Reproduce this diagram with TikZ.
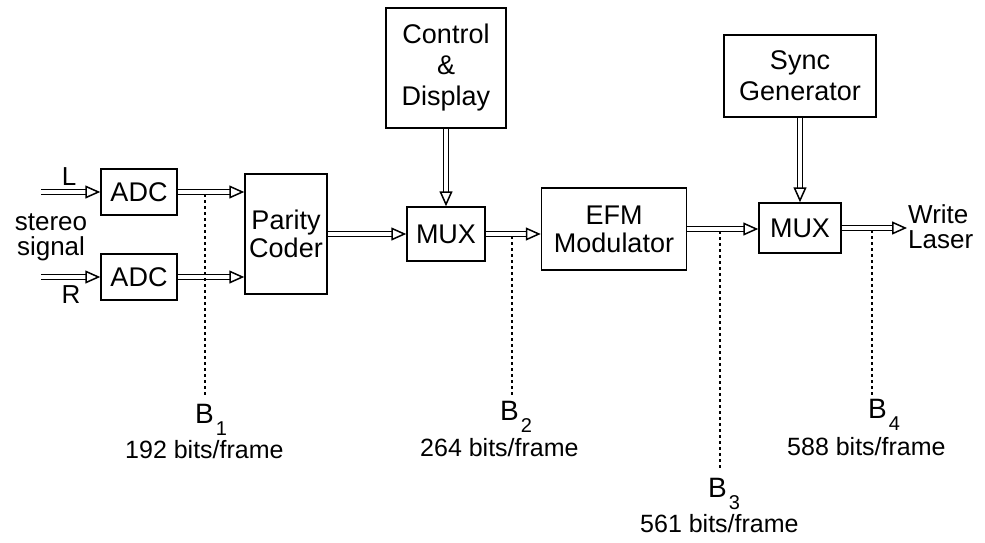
\documentclass[tikz,border=0pt]{standalone}
\usepackage{fontspec}
\setmainfont{Liberation Sans}
\usetikzlibrary{arrows.meta,calc}
\begin{document}
\begin{tikzpicture}[x=1pt,y=-1pt,
  blk/.style={draw, line width=1.5pt, inner sep=0pt, align=center, font=\fontsize{27}{28}\selectfont},
  lab/.style={inner sep=1pt, align=center, font=\fontsize{26}{25}\selectfont},
  blab/.style={inner sep=0pt, anchor=base west, font=\fontsize{28}{28}\selectfont},
  bits/.style={inner sep=0pt, anchor=base west, font=\fontsize{25}{25}\selectfont},
  dbl/.style={double, double distance=3.5pt, line width=1.5pt, -{Triangle[fill=white, length=15pt, width=13pt]}},
  dotl/.style={line width=1.4pt, dash pattern=on 3pt off 3pt}]
\useasboundingbox (0,0) rectangle (985,542);
% blocks
\node[blk, minimum width=76pt, minimum height=46pt] (adcL) at (139,192) {ADC};
\node[blk, minimum width=76pt, minimum height=46pt] (adcR) at (139,277) {ADC};
\node[blk, minimum width=82pt, minimum height=120pt] (parity) at (286,234) {Parity\\Coder};
\node[blk, minimum width=78pt, minimum height=54pt] (mux1) at (446,234) {MUX};
\node[blk, minimum width=120pt, minimum height=120pt, font=\fontsize{27}{31}\selectfont] (ctrl) at (446,68) {Control\\\&\\Display};
\node[blk, minimum width=145pt, minimum height=82pt] (efm) at (614,229) {EFM\\Modulator};
\node[blk, minimum width=82pt, minimum height=50pt] (mux2) at (800,228) {MUX};
\node[blk, minimum width=152pt, minimum height=82pt, font=\fontsize{27}{31}\selectfont] (sync) at (800,76) {Sync\\Generator};
% labels
\node[lab, anchor=west, align=left] (wl) at (907,227) {Write\\Laser};
\node[lab] (lL) at (69,177) {L};
\node[lab] (lR) at (71,295) {R};
\node[lab] (st) at (51,237) {stereo\\signal};
% inputs
\coordinate (inL) at (41,192);
\coordinate (inR) at (41,277);
% connectors
\draw[dbl] (inL) -- (adcL.west);
\draw[dbl] (inR) -- (adcR.west);
\draw[dbl] (adcL.east) -- (adcL.east -| parity.west);
\draw[dbl] (adcR.east) -- (adcR.east -| parity.west);
\draw[dbl] (parity.east) -- (mux1.west);
\draw[dbl] (ctrl.south) -- (mux1.north);
\draw[dbl] (mux1.east) -- (mux1.east -| efm.west);
\draw[dbl] (efm.east) -- (efm.east -| mux2.west);
\draw[dbl] (sync.south) -- (mux2.north);
\draw[dbl] (mux2.east) -- (mux2.east -| wl.west);
% measurement points
\coordinate (t1) at (205,194); \coordinate (e1) at (205,395);
\coordinate (t2) at (512,236); \coordinate (e2) at (512,395);
\coordinate (t3) at (720,231); \coordinate (e3) at (720,470);
\coordinate (t4) at (872,230); \coordinate (e4) at (872,395);
\draw[dotl] (t1) -- (e1);
\draw[dotl] (t2) -- (e2);
\draw[dotl] (t3) -- (e3);
\draw[dotl] (t4) -- (e4);
\newcommand{\bsub}[1]{\kern2pt\raisebox{-12pt}{\fontsize{20}{20}\selectfont #1}}
\node[blab] (b1) at (195,423) {B\bsub{1}};
\node[blab] (b2) at (500,420) {B\bsub{2}};
\node[blab] (b3) at (708,497) {B\bsub{3}};
\node[blab] (b4) at (868,418) {B\bsub{4}};
\node[bits] (r1) at (125,458) {192 bits/frame};
\node[bits] (r2) at (420,456) {264 bits/frame};
\node[bits] (r3) at (640,532) {561 bits/frame};
\node[bits] (r4) at (787,455) {588 bits/frame};
\end{tikzpicture}
\end{document}
